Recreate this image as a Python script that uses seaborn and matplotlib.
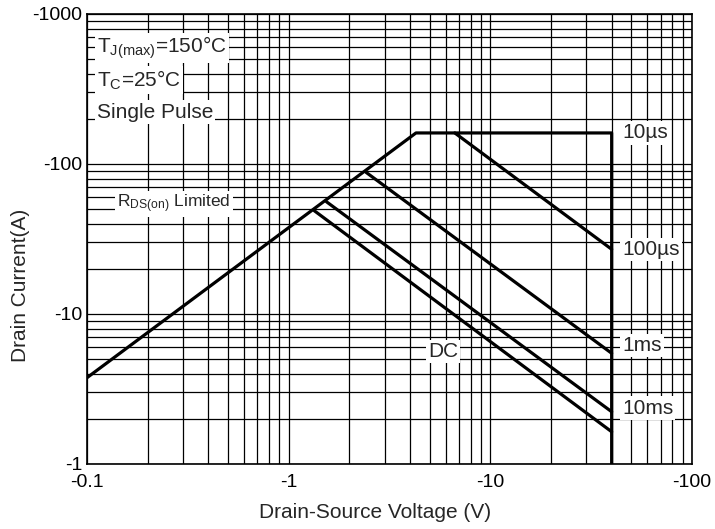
import numpy as np
import pandas as pd
import seaborn as sns
import matplotlib.pyplot as plt
from matplotlib.ticker import FixedLocator, LogLocator, NullFormatter

# SOA curves (absolute values, V and A)
v_10us = [0.1, 4.28, 40, 40]
i_10us = [3.76, 161, 161, 1]
v_100us = [6.67, 40]
i_100us = [161, 27]
v_1ms = [2.42, 40]
i_1ms = [88, 5.47]
v_10ms = [1.54, 40]
i_10ms = [56, 2.23]
v_dc = [1.34, 40]
i_dc = [48.8, 1.64]

x_ticks = [0.1, 1, 10, 100]
x_labels = ['-0.1', '-1', '-10', '-100']
y_ticks = [1, 10, 100, 1000]
y_labels = ['-1', '-10', '-100', '-1000']

sns.set_style('white')
plt.rcParams['font.family'] = ['Liberation Sans', 'DejaVu Sans']
plt.rcParams['mathtext.default'] = 'regular'

fig = plt.figure(figsize=(7.15, 5.29), dpi=100)
ax = fig.add_axes([0.1217, 0.1229, 0.846, 0.8507])

curves = [(v_10us, i_10us), (v_100us, i_100us), (v_1ms, i_1ms),
          (v_10ms, i_10ms), (v_dc, i_dc)]
for v, i in curves:
    df = pd.DataFrame({'v': v, 'i': i})
    sns.lineplot(data=df, x='v', y='i', ax=ax, color='black', lw=2.3,
                 sort=False, estimator=None, solid_joinstyle='round')

ax.set_xscale('log')
ax.set_yscale('log')
ax.set_xlim(0.1, 100)
ax.set_ylim(1, 1000)

ax.xaxis.set_major_locator(FixedLocator(x_ticks))
ax.set_xticklabels(x_labels)
ax.yaxis.set_major_locator(FixedLocator(y_ticks))
ax.set_yticklabels(y_labels)
ax.xaxis.set_minor_locator(LogLocator(base=10, subs=np.arange(2, 10)))
ax.yaxis.set_minor_locator(LogLocator(base=10, subs=np.arange(2, 10)))
ax.xaxis.set_minor_formatter(NullFormatter())
ax.yaxis.set_minor_formatter(NullFormatter())
ax.tick_params(which='both', length=0, labelsize=14, colors='black')
ax.tick_params(axis='x', pad=7)
ax.tick_params(axis='y', pad=3.5)
ax.grid(which='both', color='black', lw=0.9)
ax.set_axisbelow(True)
for s in ax.spines.values():
    s.set_color('black')
    s.set_linewidth(1.2)

ax.set_xlabel('Drain-Source Voltage (V)', fontsize=15)
ax.set_ylabel('Drain Current(A)', fontsize=15)
ax.xaxis.set_label_coords(0.476, -0.086)
ax.yaxis.set_label_coords(-0.094, 0.398)

box = dict(facecolor='white', edgecolor='none', pad=1.5)
fs = 15
ax.text(0.112, 593, 'T$_{J(max)}$=150°C', fontsize=fs, va='center', bbox=box)
ax.text(0.112, 363, 'T$_{C}$=25°C', fontsize=fs, va='center', bbox=box)
ax.text(0.112, 222, 'Single Pulse', fontsize=fs, va='center', bbox=box)
ax.text(0.141, 54, 'R$_{DS(on)}$ Limited', fontsize=12.5, va='center', bbox=box)
ax.text(45, 161, '10µs', fontsize=fs, va='center', bbox=box)
ax.text(45, 27, '100µs', fontsize=fs, va='center', bbox=box)
ax.text(45, 6.2, '1ms', fontsize=fs, va='center', bbox=box)
ax.text(45, 2.36, '10ms', fontsize=fs, va='center', bbox=box)
ax.text(4.9, 5.6, 'DC', fontsize=fs, va='center', bbox=box)

fig.savefig('out.png', dpi=100)
